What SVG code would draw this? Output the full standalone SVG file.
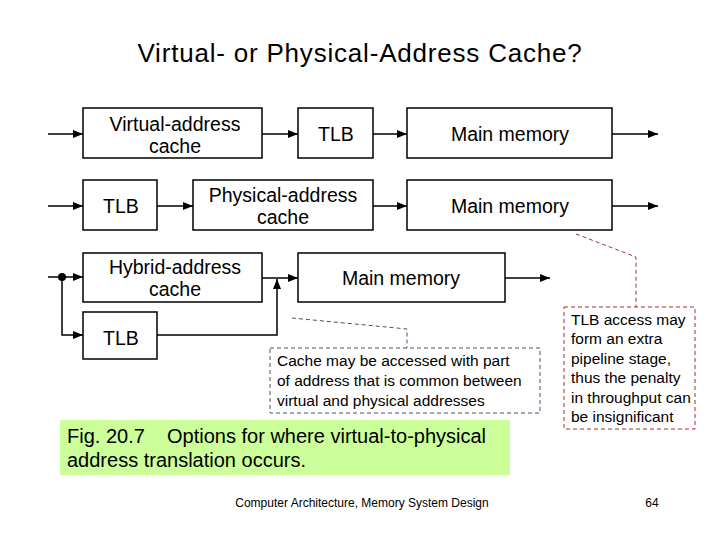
<svg xmlns="http://www.w3.org/2000/svg" width="720" height="540" viewBox="0 0 720 540">
<defs>
<marker id="ah" viewBox="0 0 10 10" refX="10" refY="5" markerWidth="10" markerHeight="10" markerUnits="userSpaceOnUse" orient="auto">
<path d="M0,1 L10,5 L0,9 Z" fill="#000"/>
</marker>
</defs>
<style>
text{font-family:"Liberation Sans",Arial,sans-serif;fill:#000}
.box{fill:#fff;stroke:#000;stroke-width:1.5}
.lbl{font-size:19.5px;text-anchor:middle}
.wire{fill:none;stroke:#000;stroke-width:1.5}
.arr{fill:none;stroke:#000;stroke-width:1.5;marker-end:url(#ah)}
.note{font-size:15.5px}
</style>
<rect width="720" height="540" fill="#fff"/>
<text x="360" y="62" font-size="26" letter-spacing="0.8" text-anchor="middle">Virtual- or Physical-Address Cache?</text>

<g id="vac"><rect class="box" x="83" y="108" width="179" height="50"/><text class="lbl" x="175" y="131">Virtual-address</text><text class="lbl" x="175" y="153">cache</text></g>
<g id="tlb1"><rect class="box" x="298" y="108" width="75" height="50"/><text class="lbl" x="336" y="141">TLB</text></g>
<g id="mm1"><rect class="box" x="407" y="108" width="205" height="50"/><text class="lbl" x="510" y="141">Main memory</text></g>

<g id="tlb2"><rect class="box" x="83" y="180" width="74" height="50"/><text class="lbl" x="121" y="213">TLB</text></g>
<g id="pac"><rect class="box" x="193" y="180" width="180" height="50"/><text class="lbl" x="283" y="202">Physical-address</text><text class="lbl" x="283" y="224">cache</text></g>
<g id="mm2"><rect class="box" x="407" y="180" width="205" height="50"/><text class="lbl" x="510" y="213">Main memory</text></g>

<g id="hac"><rect class="box" x="83" y="253" width="179" height="49"/><text class="lbl" x="175" y="274">Hybrid-address</text><text class="lbl" x="175" y="296">cache</text></g>
<g id="mm3"><rect class="box" x="298" y="253" width="207" height="49"/><text class="lbl" x="401" y="285">Main memory</text></g>
<g id="tlb3"><rect class="box" x="83" y="312" width="74" height="47"/><text class="lbl" x="121" y="345">TLB</text></g>

<g id="connectors">
<line class="arr" x1="48" y1="134" x2="83" y2="134"/>
<line class="arr" x1="262" y1="134" x2="298" y2="134"/>
<line class="arr" x1="373" y1="134" x2="407" y2="134"/>
<line class="arr" x1="612" y1="134" x2="658" y2="134"/>
<line class="arr" x1="48" y1="206" x2="83" y2="206"/>
<line class="arr" x1="157" y1="206" x2="193" y2="206"/>
<line class="arr" x1="373" y1="206" x2="407" y2="206"/>
<line class="arr" x1="612" y1="206" x2="658" y2="206"/>
<line class="arr" x1="48" y1="277" x2="83" y2="277"/>
<circle cx="62" cy="277" r="4" fill="#000"/>
<polyline class="arr" points="62,277 62,335 83,335"/>
<line class="arr" x1="262" y1="278" x2="298" y2="278"/>
<polyline class="arr" points="157,335 277,335 277,279"/>
<line class="arr" x1="505" y1="278" x2="550" y2="278"/>
</g>

<g id="note1">
<polyline points="292,318 407,329 407,348" fill="none" stroke="#4a5070" stroke-width="1" stroke-dasharray="4,3"/>
<rect x="270" y="348" width="270" height="65" fill="#fff" stroke="#4a5070" stroke-width="1" stroke-dasharray="4,3"/>
<text class="note" x="277" y="366">Cache may be accessed with part</text>
<text class="note" x="277" y="386">of address that is common between</text>
<text class="note" x="277" y="406">virtual and physical addresses</text>
</g>

<g id="note2">
<polyline points="576,234 636,257 636,307" fill="none" stroke="#a0303a" stroke-width="1" stroke-dasharray="4,3"/>
<rect x="564" y="307" width="131" height="122" fill="#fff" stroke="#a0303a" stroke-width="1" stroke-dasharray="4,3"/>
<text class="note" x="571" y="325">TLB access may</text>
<text class="note" x="571" y="344">form an extra</text>
<text class="note" x="571" y="364">pipeline stage,</text>
<text class="note" x="571" y="383">thus the penalty</text>
<text class="note" x="571" y="403">in throughput can</text>
<text class="note" x="571" y="422">be insignificant</text>
</g>

<g id="caption">
<rect x="60" y="420" width="450" height="55" fill="#ccff99"/>
<text x="67" y="443" font-size="20" xml:space="preserve">Fig. 20.7    Options for where virtual-to-physical</text>
<text x="67" y="467" font-size="20">address translation occurs.</text>
</g>
<text x="362" y="507" font-size="12" text-anchor="middle">Computer Architecture, Memory System Design</text>
<text x="652" y="507" font-size="12" text-anchor="middle">64</text>
</svg>
